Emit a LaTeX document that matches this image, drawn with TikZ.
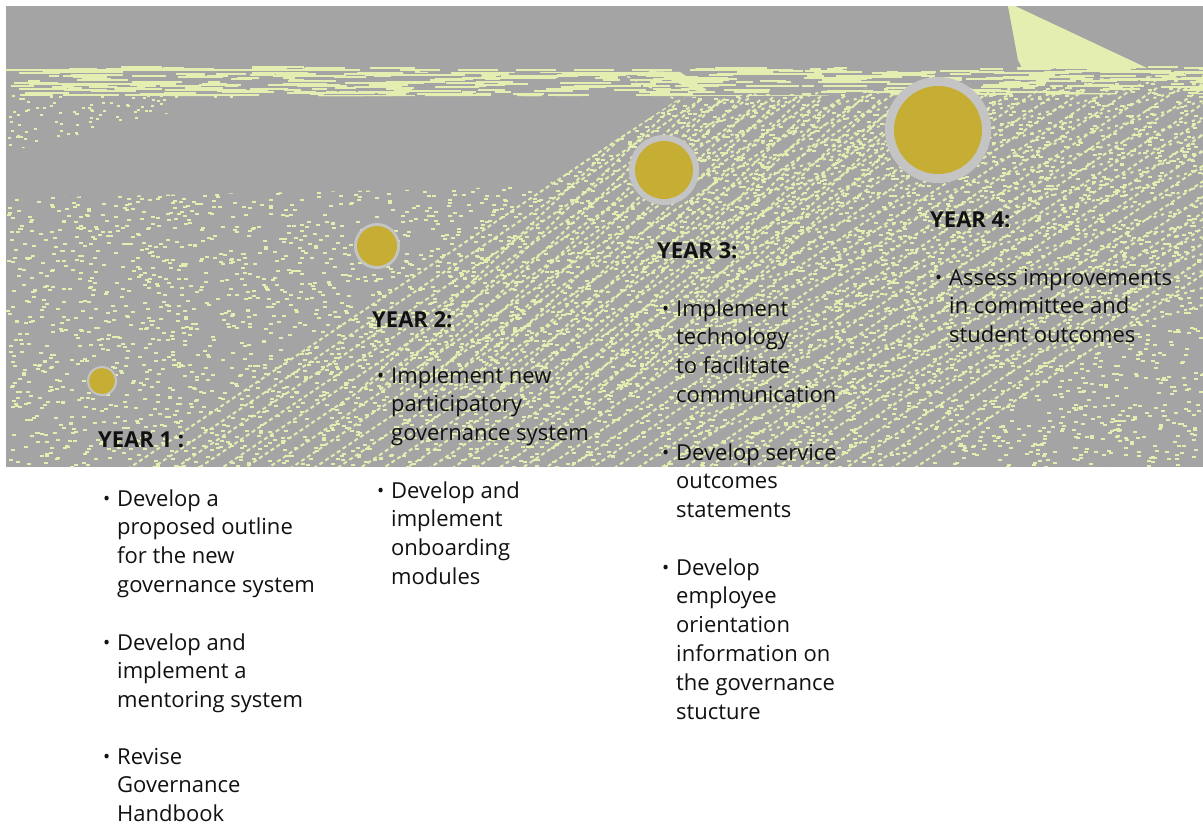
\documentclass[tikz,border=0pt]{standalone}
\usepackage{fontspec}
\setmainfont{Open Sans}
\definecolor{bgc}{HTML}{A4A4A4}
\definecolor{spkc}{HTML}{E4EEB0}
\definecolor{ringc}{HTML}{C4C4C4}
\definecolor{goldc}{HTML}{C5AE33}
\definecolor{txtc}{HTML}{111111}
\newcommand{\bul}{\llap{\fontsize{19}{19}\selectfont\raisebox{0.5pt}{•}\hspace{7pt}}}
\begin{document}
\begin{tikzpicture}[x=1pt,y=-1pt,
  spk/.style={fill=spkc},
  spkline/.style={draw=spkc, line width=2pt, dash pattern=on 4pt off 3pt},
  itemtext/.style={anchor=base west, inner sep=0pt, align=left, text=txtc,
    font=\fontsize{22}{28.8}\selectfont},
  headtext/.style={anchor=base west, inner sep=0pt, text=txtc,
    font=\fontsize{22}{28.8}\selectfont\bfseries},
  ringdot/.style={circle, fill=ringc, inner sep=0pt},
  golddot/.style={circle, fill=goldc, inner sep=0pt}]
\useasboundingbox (0,0) rectangle (1203,825);
\fill[white] (0,0) rectangle (1203,825);
\fill[bgc] (6,6) rectangle (1203,467);
\pgfmathsetseed{12}
\begin{scope}
  \clip (6,6) rectangle (1203,467);
  % bright triangle top right
  \fill[spk] (1008,6) -- (1015,6) -- (1147,68) -- (1022,68) -- (1018,60) -- cycle;
  % bright streak near the peak
  \fill[spk] (648,71) -- (680,72) -- (707,90) -- (700,92) -- cycle;
  % horizontal streak band
  \begin{scope}
    \clip (6,66) -- (420,66) -- (420,72) -- (690,72) -- (700,66) -- (1203,66)
      -- (1203,94) -- (700,96) -- (6,96) -- cycle;
    \foreach \i in {1,...,420}{
      \pgfmathsetmacro\xx{6+1197*rnd}
      \pgfmathsetmacro\yy{66+30*rnd}
      \pgfmathsetmacro\ww{8+45*rnd}
      \fill[spk] (\xx,\yy) rectangle ++(\ww,2);
    }
  \end{scope}
  \draw[spkc, line width=1.6pt] (6,70) -- (360,70);
  \draw[spkc, line width=1.4pt, dash pattern=on 40pt off 18pt] (400,70) -- (700,70);
  % sparse dots under the band on the left
  \begin{scope}
    \clip (6,94) -- (250,94) -- (6,152) -- cycle;
    \foreach \i in {1,...,160}{
      \pgfmathsetmacro\xx{6+250*rnd}
      \pgfmathsetmacro\yy{94+58*rnd}
      \fill[spk] (\xx,\yy) rectangle ++(3,2);
    }
  \end{scope}
  % lower textured field
  \begin{scope}
    \clip (6,467) -- (6,198) -- (400,190) -- (545,186) -- (677,100) -- (700,96)
      -- (1203,74) -- (1203,467) -- cycle;
    \foreach \i in {1,...,5500}{
      \pgfmathsetmacro\xx{6+1197*rnd}
      \pgfmathsetmacro\yy{74+393*rnd}
      \fill[spk] (\xx,\yy) rectangle ++(4,2);
    }
    \foreach \k in {0,...,34}{
      \draw[spkline] (677+24*\k,100-0.6*\k) -- ++(-640,430);
    }
    \foreach \k in {0,...,14}{
      \draw[spkline] (660+20*\k,100) -- ++(-300,290);
    }
    \foreach \k in {0,...,20}{
      \draw[spkline, dash pattern=on 3pt off 5pt] (700,110+17*\k) -- ++(520,-150);
    }
  \end{scope}
  \draw[spkc, line width=1.6pt, dash pattern=on 3pt off 5pt] (620,73) -- (677,100);
\end{scope}
% circles
\node[ringdot, minimum size=30pt] (r1) at (102,381) {};
\node[golddot, minimum size=26pt] (c1) at (r1) {};
\node[ringdot, minimum size=46pt] (r2) at (377,246) {};
\node[golddot, minimum size=40pt] (c2) at (r2) {};
\node[ringdot, minimum size=70pt] (r3) at (664,170) {};
\node[golddot, minimum size=58pt] (c3) at (r3) {};
\node[ringdot, minimum size=106pt] (r4) at (938,130) {};
\node[golddot, minimum size=88pt] (c4) at (r4) {};
% year 1 (node positions are the baseline of each item's last line)
\node[headtext] (h1) at (98,447) {YEAR 1 :};
\node[itemtext] (a1) at (117,592.4) {\bul Develop a\\proposed outline\\for the new\\governance system};
\node[itemtext] (a2) at (117,707.6) {\bul Develop and\\implement a\\mentoring system};
\node[itemtext] (a3) at (117,821.6) {\bul Revise\\Governance\\Handbook};
% year 2
\node[headtext] (h2) at (372,327) {YEAR 2:};
\node[itemtext] (b1) at (391,440.6) {\bul Implement new\\participatory\\governance system};
\node[itemtext] (b2) at (391,584.4) {\bul Develop and\\implement\\onboarding\\modules};
% year 3
\node[headtext] (h3) at (657,258) {YEAR 3:};
\node[itemtext] (c1t) at (676,402.4) {\bul Implement\\technology\\to facilitate\\communication};
\node[itemtext] (c2t) at (676,517.6) {\bul Develop service\\outcomes\\statements};
\node[itemtext] (c3t) at (676,719) {\bul Develop\\employee\\orientation\\information on\\the governance\\stucture};
% year 4
\node[headtext] (h4) at (930,227) {YEAR 4:};
\node[itemtext] (d1) at (949,342.6) {\bul Assess improvements\\in committee and\\student outcomes};
\end{tikzpicture}
\end{document}
